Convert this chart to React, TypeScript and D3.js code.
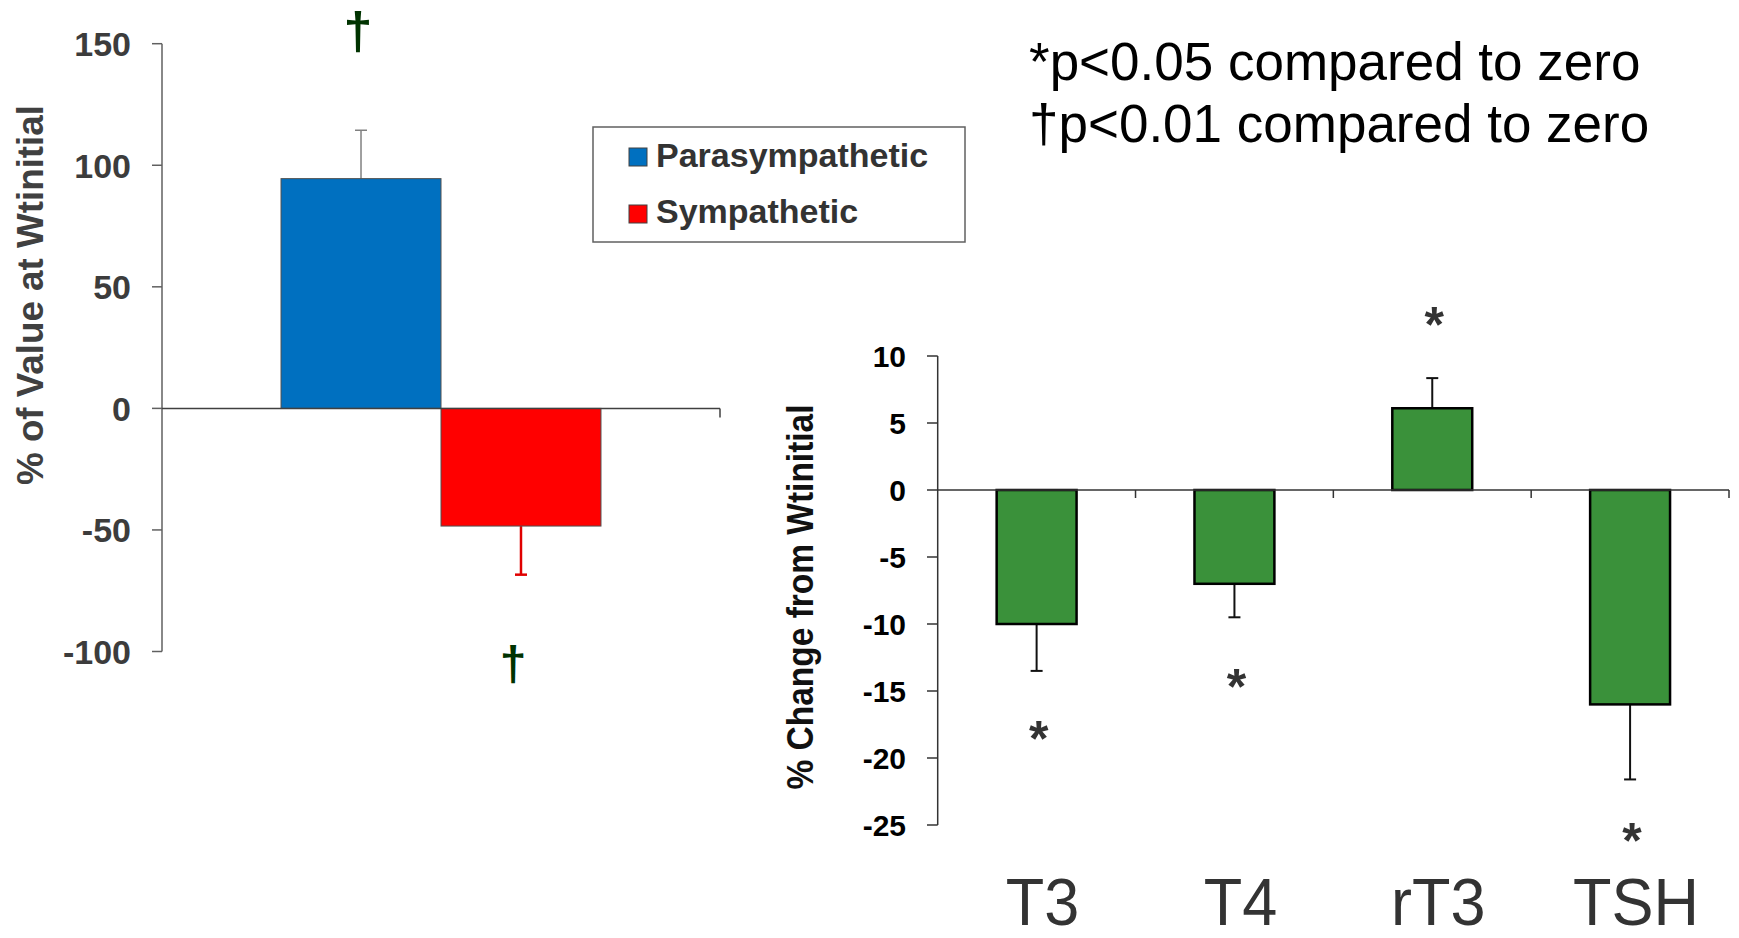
import React from "react";
import * as d3 from "d3";

// ---------- Left panel data ----------
const leftSeries = ["Parasympathetic", "Sympathetic"];
const leftValues = [94.5, -48.4];
const leftErrors = [19.9, 20.0];
const leftColors = ["#0070C0", "#FF0000"];
const leftErrColors = ["#808080", "#E00000"];
const leftTicks = [-100, -50, 0, 50, 100, 150];
const leftDaggerAt = [156, -104];

// ---------- Right panel data ----------
const rightCats = ["T3", "T4", "rT3", "TSH"];
const rightValues = [-10, -7, 6.1, -16];
const rightErrors = [3.5, 2.5, 2.25, 5.6];
const rightStarAt = [-18, -14.1, 12.9, -25.6];
const rightTicks = [-25, -20, -15, -10, -5, 0, 5, 10];
const notes = ["*p<0.05 compared to zero", "\u2020p<0.01 compared to zero"];

const FONT = "'Liberation Sans', Arial, Helvetica, sans-serif";

export default function App() {
  const lx = d3.scaleBand<string>().domain(["g"]).range([162, 720]);
  const lSub = d3
    .scaleBand<string>()
    .domain(leftSeries)
    .range([0, lx.bandwidth()])
    .paddingOuter(0.744)
    .paddingInner(0);
  const ly = d3.scaleLinear().domain([-100, 150]).range([651.5, 43.7]);

  const rx = d3.scaleBand<string>().domain(rightCats).range([937.7, 1729]);
  const barW = rx.bandwidth() * 0.404;
  const ry = d3.scaleLinear().domain([-25, 10]).range([825, 356]);

  return (
    <svg
      width={1739}
      height={938}
      style={{ position: "absolute", left: 0, top: 0, background: "#fff" }}
      fontFamily={FONT}
    >
      {/* ================= LEFT PANEL ================= */}
      <line x1={162} x2={162} y1={ly(150)} y2={ly(-100)} stroke="#606060" strokeWidth={1.5} />
      {leftTicks.map((t) => (
        <g key={"lt" + t}>
          <line x1={152} x2={162} y1={ly(t)} y2={ly(t)} stroke="#606060" strokeWidth={1.5} />
          <text
            x={131}
            y={ly(t)}
            dy="0.36em"
            textAnchor="end"
            fontSize={34}
            fontWeight="bold"
            fill="#3c3c3c"
          >
            {t}
          </text>
        </g>
      ))}
      <text
        transform={`translate(43,295) rotate(-90)`}
        textAnchor="middle"
        fontSize={37}
        fontWeight="bold"
        fill="#404040"
        textLength={380}
        lengthAdjust="spacingAndGlyphs"
      >
        % of Value at Wtinitial
      </text>

      {leftSeries.map((s, i) => {
        const x0 = (lx("g") as number) + (lSub(s) as number);
        const w = lSub.bandwidth();
        const v = leftValues[i];
        const yTop = ly(Math.max(0, v));
        const yBot = ly(Math.min(0, v));
        const cx = x0 + w / 2;
        const eEnd = v >= 0 ? v + leftErrors[i] : v - leftErrors[i];
        return (
          <g key={s}>
            <line
              x1={cx}
              x2={cx}
              y1={ly(v)}
              y2={ly(eEnd)}
              stroke={leftErrColors[i]}
              strokeWidth={i === 0 ? 1.5 : 2.5}
            />
            <line
              x1={cx - 6}
              x2={cx + 6}
              y1={ly(eEnd)}
              y2={ly(eEnd)}
              stroke={leftErrColors[i]}
              strokeWidth={i === 0 ? 1.5 : 2.5}
            />
            <rect
              x={x0}
              y={yTop}
              width={w}
              height={yBot - yTop}
              fill={leftColors[i]}
              stroke="#505050"
              strokeWidth={1}
            />
            <text
              x={i === 0 ? cx - 3 : cx - 8}
              y={ly(leftDaggerAt[i])}
              dy={i === 0 ? "0.38em" : "0.4em"}
              textAnchor="middle"
              fontSize={i === 0 ? 52 : 48}
              fontWeight="bold"
              fill="#003300"
            >
              {"\u2020"}
            </text>
          </g>
        );
      })}
      <line x1={162} x2={720} y1={ly(0)} y2={ly(0)} stroke="#404040" strokeWidth={1.5} />
      <line x1={720} x2={720} y1={ly(0)} y2={ly(0) + 9} stroke="#404040" strokeWidth={1.5} />

      {/* legend */}
      <rect x={593} y={127} width={372} height={115} fill="#fff" stroke="#606060" strokeWidth={1.5} />
      {leftSeries.map((s, i) => (
        <g key={"lg" + s}>
          <rect
            x={629}
            y={148 + i * 57}
            width={18}
            height={18}
            fill={leftColors[i]}
            stroke="#404040"
            strokeWidth={1}
          />
          <text x={656} y={167 + i * 56} fontSize={34} fontWeight="bold" fill="#333">
            {s}
          </text>
        </g>
      ))}

      {/* ================= RIGHT PANEL ================= */}
      {notes.map((n, i) => (
        <text key={n} x={1029} y={80 + i * 62} fontSize={53} fill="#000">
          {n}
        </text>
      ))}

      <line x1={937.7} x2={937.7} y1={ry(10)} y2={ry(-25)} stroke="#333" strokeWidth={1.5} />
      {rightTicks.map((t) => (
        <g key={"rt" + t}>
          <line x1={927} x2={937.7} y1={ry(t)} y2={ry(t)} stroke="#333" strokeWidth={1.5} />
          <text
            x={906}
            y={ry(t)}
            dy="0.36em"
            textAnchor="end"
            fontSize={30}
            fontWeight="bold"
            fill="#000"
          >
            {t}
          </text>
        </g>
      ))}
      <text
        transform={`translate(813,597) rotate(-90)`}
        textAnchor="middle"
        fontSize={36}
        fontWeight="bold"
        fill="#111"
        textLength={385}
        lengthAdjust="spacingAndGlyphs"
      >
        % Change from Wtinitial
      </text>

      {rightCats.map((c, i) => {
        const cx = (rx(c) as number) + rx.bandwidth() / 2;
        const v = rightValues[i];
        const yTop = ry(Math.max(0, v));
        const yBot = ry(Math.min(0, v));
        const eEnd = v >= 0 ? v + rightErrors[i] : v - rightErrors[i];
        const lxp = cx + 6;
        return (
          <g key={c}>
            <line x1={cx} x2={cx} y1={ry(v)} y2={ry(eEnd)} stroke="#111" strokeWidth={2} />
            <line x1={cx - 6} x2={cx + 6} y1={ry(eEnd)} y2={ry(eEnd)} stroke="#111" strokeWidth={2} />
            <rect
              x={cx - barW / 2}
              y={yTop}
              width={barW}
              height={yBot - yTop}
              fill="#3A913A"
              stroke="#000"
              strokeWidth={2.5}
            />
            <text
              x={cx + 2}
              y={ry(rightStarAt[i])}
              dy="0.5em"
              textAnchor="middle"
              fontSize={50}
              fontWeight="bold"
              fill="#333"
            >
              *
            </text>
            <text
              x={lxp}
              y={925}
              textAnchor="middle"
              fontSize={67}
              fill="#333"
              transform={`translate(${lxp},0) scale(0.94,1) translate(${-lxp},0)`}
            >
              {c}
            </text>
          </g>
        );
      })}
      <line x1={937.7} x2={1729} y1={ry(0)} y2={ry(0)} stroke="#333" strokeWidth={1.5} />
      {rightCats.map((c) => {
        const xe = (rx(c) as number) + rx.bandwidth();
        return (
          <line key={"ct" + c} x1={xe} x2={xe} y1={ry(0)} y2={ry(0) + 8} stroke="#333" strokeWidth={1.5} />
        );
      })}
    </svg>
  );
}
